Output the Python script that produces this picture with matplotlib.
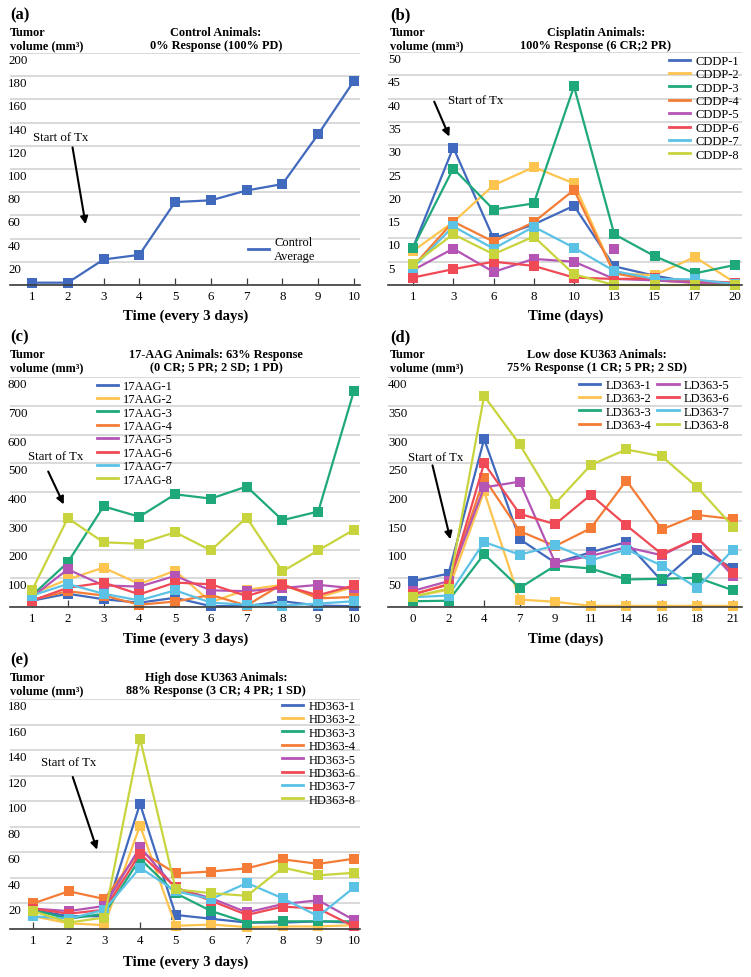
import matplotlib
matplotlib.use("Agg")
import matplotlib.pyplot as plt
from matplotlib.lines import Line2D
from matplotlib import transforms

W, H = 751, 978
plt.rcParams["font.family"] = ["Liberation Serif", "DejaVu Serif"]

COLORS = ["#4169bd", "#fdc44f", "#1fa97a", "#f47c36",
          "#b455b6", "#ef4a56", "#5bc2e6", "#c8d43d"]

# (a) control animals
ctrl_times = [1, 2, 3, 4, 5, 6, 7, 8, 9, 10]
control_avg = [2, 2, 22, 26, 71.5, 73, 81.5, 87, 130, 176]

# (b) cisplatin animals
cddp_days = ["1", "3", "6", "8", "10", "13", "15", "17", "20"]
cddp1 = [8.0, 29.5, 10.0, 13.0, 17.0, 4.0, 2.0, 0.5, 0.2]
cddp2 = [7.3, 13.5, 21.4, 25.3, 21.8, 2.5, 2.1, 6.0, 0.5]
cddp3 = [8.0, 25.0, 16.2, 17.5, 42.6, 10.9, 6.2, 2.5, 4.3]
cddp4 = [4.0, 13.6, 9.3, 13.5, 20.4, 2.5, 1.0, 0.5, 0.2]
cddp5 = [3.2, 7.8, 2.8, 5.6, 5.0, 1.3, 1.0, 0.5, 0.2]
cddp6 = [1.6, 3.4, 5.0, 4.1, 1.6, 1.3, 1.4, 0.9, 0.5]
cddp7 = [3.7, 12.6, 7.8, 12.5, 8.0, 3.0, 1.3, 1.2, 0.2]
cddp8 = [4.4, 10.9, 6.6, 10.4, 2.3, 0.0, 0.0, 0.0, 0.0]
cddp5_stray_day = "13"
cddp5_stray_val = 7.8

# (c) 17-AAG animals
aag_times = [1, 2, 3, 4, 5, 6, 7, 8, 9, 10]
aag1 = [22, 46, 27, 15, 32, 3, 3, 20, 5, 3]
aag2 = [45, 96, 137, 80, 126, 17, 60, 77, 33, 70]
aag3 = [40, 155, 350, 314, 392, 377, 419, 302, 332, 752]
aag4 = [25, 55, 40, 8, 19, 42, 5, 80, 30, 35]
aag5 = [35, 131, 75, 71, 108, 58, 55, 66, 77, 65]
aag6 = [22, 67, 85, 44, 85, 79, 38, 75, 41, 75]
aag7 = [40, 80, 46, 23, 58, 15, 8, 5, 12, 20]
aag8 = [58, 309, 225, 220, 260, 197, 311, 124, 197, 269]

# (d) low dose KU363
ld_days = ["0", "2", "4", "7", "9", "11", "14", "16", "18", "21"]
ld1 = [45, 58, 292, 118, 77, 95, 113, 45, 99, 68]
ld2 = [18, 30, 201, 13, 9, 2, 2, 2, 2, 2]
ld3 = [10, 11, 92, 33, 72, 67, 48, 49, 51, 29]
ld4 = [22, 40, 224, 132, 106, 137, 220, 135, 160, 153]
ld5 = [28, 45, 208, 218, 77, 89, 104, 90, 120, 54]
ld6 = [22, 39, 250, 162, 144, 195, 142, 92, 120, 60]
ld7 = [17, 20, 113, 91, 107, 81, 100, 72, 33, 100]
ld8 = [18, 32, 367, 283, 180, 247, 274, 262, 208, 140]

# (e) high dose KU363
hd_times = [1, 2, 3, 4, 5, 6, 7, 8, 9, 10]
hd1 = [15, 10, 10, 98, 11, 8, 5, 5, 6, 5]
hd2 = [10, 4.5, 3, 81, 2.5, 3.5, 1.5, 2, 2, 3]
hd3 = [15, 8, 12, 55, 28, 14, 5, 6, 6, 6]
hd4 = [20, 29.5, 23.5, 61, 43.5, 45, 47.5, 54.5, 51, 55]
hd5 = [16, 14, 18, 64, 32, 24, 13, 19.5, 22.5, 7]
hd6 = [16, 12, 15, 59, 32.5, 22, 11, 17.5, 16, 2]
hd7 = [10, 8, 15, 48, 29.5, 23.5, 36, 24, 10, 32.5]
hd8 = [14, 5, 9, 149, 31, 28, 26, 48, 42, 44]

TICK_FS = 9.3
LEG_FS = 9
MS = 6.5


def fx(x):
    return x / W


def fy(y):
    return 1 - y / H


fig = plt.figure(figsize=(W / 100, H / 100), dpi=100)


def make_panel(box, pos, first_px, last_px, xlabels, ymax, ystep, lab_dx=0):
    left, right, top, bottom = box
    ax = fig.add_axes([fx(left), fy(bottom), fx(right - left), (bottom - top) / H])
    sp = (last_px - first_px) / (pos[-1] - pos[0])
    ax.set_xlim(pos[0] - (first_px - left) / sp, pos[-1] + (right - last_px) / sp)
    ax.set_ylim(0, ymax)
    for s in ["top", "right", "left"]:
        ax.spines[s].set_visible(False)
    ax.spines["bottom"].set_color("#3c3c3c")
    ax.spines["bottom"].set_linewidth(1.2)
    ax.set_xticks(pos, xlabels)
    ax.tick_params(axis="x", direction="in", length=5, width=0.9, color="#3c3c3c",
                   labelsize=TICK_FS, pad=3.5)
    yt = list(range(0, ymax + 1, ystep))
    ax.set_yticks(yt)
    ax.tick_params(axis="y", length=0, labelleft=False)
    ax.grid(axis="y", color="#d3d3d3", lw=1.2)
    ax.set_axisbelow(True)
    trans = transforms.blended_transform_factory(ax.transAxes, ax.transData)
    trans = transforms.offset_copy(trans, fig=fig, x=lab_dx, y=-7, units="dots")
    for v in yt[1:]:
        ax.text(0, v, str(v), transform=trans, ha="left", va="center", fontsize=TICK_FS)
    return ax


def heading(letter, x, y, title1, title2, tx):
    fig.text(fx(x), fy(y), letter, fontsize=12, fontweight="bold", va="center")
    fig.text(fx(x), fy(y + 18), "Tumor", fontsize=8.8, fontweight="bold", va="center")
    fig.text(fx(x), fy(y + 31), "volume (mm³)", fontsize=8.8, fontweight="bold", va="center")
    fig.text(fx(tx), fy(y + 18), title1, fontsize=8.8, fontweight="bold", va="center", ha="center")
    fig.text(fx(tx), fy(y + 31), title2, fontsize=8.8, fontweight="bold", va="center", ha="center")


def draw_series(ax, pos, series):
    for vals, c in zip(series, COLORS):
        ax.plot(pos, vals, color=c, lw=1.6, marker="s", ms=MS, mew=0, clip_on=False)
    return [Line2D([], [], color=c, lw=2) for c in COLORS[:len(series)]]


def legend(ax, handles, labels, x, y, ncol=1):
    ax.legend(handles, labels, loc="upper left", bbox_to_anchor=(fx(x), fy(y)),
              bbox_transform=fig.transFigure, frameon=False, fontsize=LEG_FS,
              borderpad=0, borderaxespad=0, handlelength=1.7, handletextpad=0.4,
              labelspacing=0.11, ncol=ncol, columnspacing=0.5)


def start_tx(ax, text_xy, tail, tip):
    ax.text(text_xy[0], text_xy[1], "Start of Tx", fontsize=TICK_FS, ha="center", va="center")
    ax.annotate("", xy=tip, xytext=tail,
                arrowprops=dict(arrowstyle="-|>", color="black", lw=1.5, mutation_scale=11))


def xlabel(text, x, y):
    fig.text(fx(x), fy(y), text, fontsize=10.7, fontweight="bold", ha="center", va="center")


# (a)
ax = make_panel((10, 360, 54, 286), ctrl_times, 32, 354, [str(t) for t in ctrl_times], 200, 20, -2)
ax.plot(ctrl_times, control_avg, color=COLORS[0], lw=1.6, marker="s", ms=MS + 0.3, mew=0, clip_on=False)
legend(ax, [Line2D([], [], color=COLORS[0], lw=2)], ["Control\nAverage"], 248, 237)
start_tx(ax, (1.81, 128), (2.12, 121), (2.51, 50))
heading("(a)", 10, 15, "Control Animals:", "0% Response (100% PD)", 216)
xlabel("Time (every 3 days)", 186, 316)

# (b)
bpos = list(range(len(cddp_days)))
ax = make_panel((388, 742, 53, 286), bpos, 413, 735, cddp_days, 50, 5)
h = draw_series(ax, bpos, [cddp1, cddp2, cddp3, cddp4, cddp5, cddp6, cddp7, cddp8])
ax.plot([cddp_days.index(cddp5_stray_day)], [cddp5_stray_val], ls="none",
        marker="s", ms=MS, mew=0, color=COLORS[4])
legend(ax, h, [f"CDDP-{i}" for i in range(1, 9)], 669, 56)
start_tx(ax, (1.55, 39.7), (0.5, 39.9), (0.93, 31.3))
heading("(b)", 390, 15, "Cisplatin Animals:", "100% Response (6 CR;2 PR)", 596)
xlabel("Time (days)", 566, 316)

# (c)
ax = make_panel((10, 360, 378, 608), aag_times, 32, 354, [str(t) for t in aag_times], 800, 100, -2)
h = draw_series(ax, aag_times, [aag1, aag2, aag3, aag4, aag5, aag6, aag7, aag8])
legend(ax, h, [f"17AAG-{i}" for i in range(1, 9)], 97, 381)
start_tx(ax, (1.66, 525), (1.42, 480), (1.92, 348))
heading("(c)", 10, 337, "17-AAG Animals: 63% Response", "(0 CR; 5 PR; 2 SD; 1 PD)", 216)
xlabel("Time (every 3 days)", 186, 639)

# (d)
dpos = list(range(len(ld_days)))
ax = make_panel((388, 742, 378, 608), dpos, 413, 733, ld_days, 400, 50)
h = draw_series(ax, dpos, [ld1, ld2, ld3, ld4, ld5, ld6, ld7, ld8])
legend(ax, h, [f"LD363-{i}" for i in range(1, 9)], 579, 380, ncol=2)
start_tx(ax, (0.63, 261), (0.53, 251), (1.07, 113))
heading("(d)", 390, 337, "Low dose KU363 Animals:", "75% Response (1 CR; 5 PR; 2 SD)", 597)
xlabel("Time (days)", 566, 639)

# (e)
ax = make_panel((10, 360, 700, 930), hd_times, 33, 354, [str(t) for t in hd_times], 180, 20, -2)
h = draw_series(ax, hd_times, [hd1, hd2, hd3, hd4, hd5, hd6, hd7, hd8])
legend(ax, h, [f"HD363-{i}" for i in range(1, 9)], 282, 701)
start_tx(ax, (2.0, 131), (2.09, 121), (2.82, 60))
heading("(e)", 10, 660, "High dose KU363 Animals:", "88% Response (3 CR; 4 PR; 1 SD)", 216)
xlabel("Time (every 3 days)", 186, 962)

fig.savefig("out.png", dpi=100)
